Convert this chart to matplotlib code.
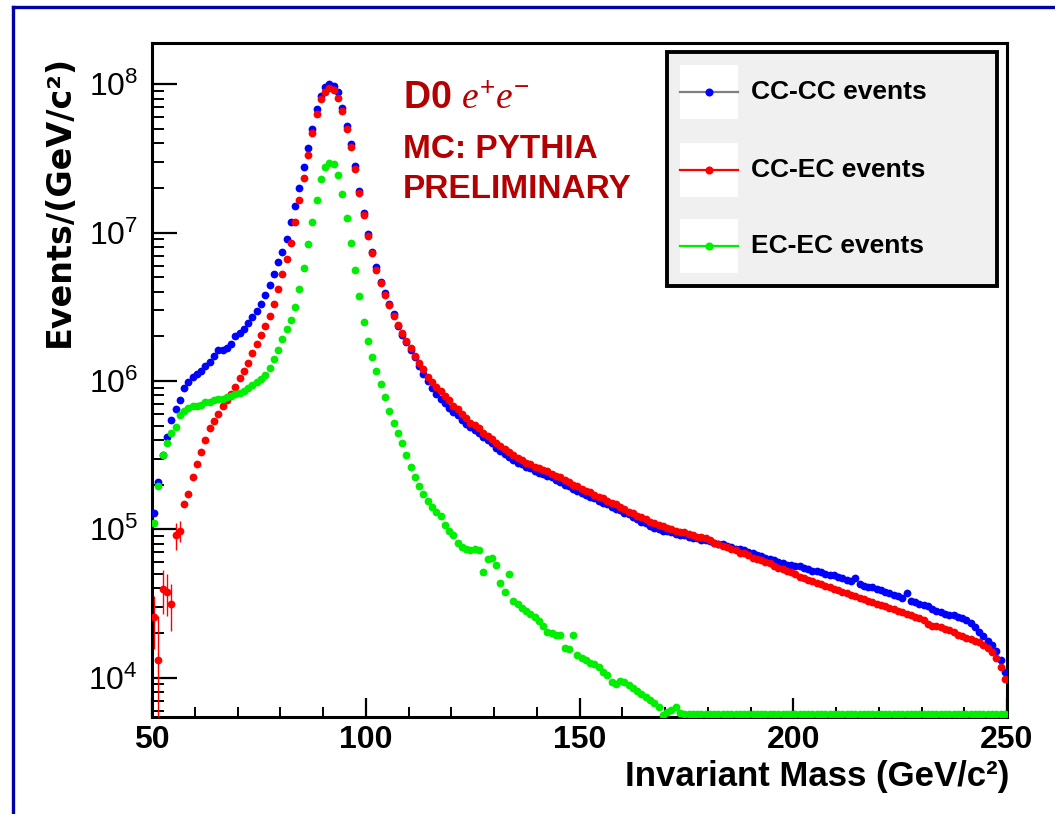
import numpy as np
import matplotlib
matplotlib.use('Agg')
import matplotlib.pyplot as plt
from matplotlib.patches import Rectangle
from matplotlib.lines import Line2D
from matplotlib.ticker import LogLocator, MultipleLocator, NullFormatter, LogFormatterSciNotation

plt.rcParams['font.family'] = ['Liberation Sans', 'DejaVu Sans']
plt.rcParams['mathtext.fontset'] = 'custom'
plt.rcParams['mathtext.rm'] = 'Liberation Sans'
plt.rcParams['mathtext.it'] = 'Liberation Serif:italic'
plt.rcParams['mathtext.bf'] = 'Liberation Sans:bold'

# ---------------- data (1 GeV bins, 50-250 GeV) ----------------
mass_bins = np.arange(50.5, 250.0, 1.0)

# log10(events per GeV/c^2)
cc_cc_log10 = [
    5.11, 5.32, 5.50, 5.62, 5.74, 5.81, 5.87, 5.95, 5.99, 6.03,
    6.05, 6.07, 6.10, 6.13, 6.17, 6.21, 6.21, 6.22, 6.25, 6.30,
    6.32, 6.35, 6.39, 6.43, 6.47, 6.52, 6.58, 6.65, 6.72, 6.80,
    6.87, 6.96, 7.07, 7.18, 7.30, 7.44, 7.57, 7.70, 7.83, 7.92,
    7.98, 8.00, 7.99, 7.95, 7.84, 7.72, 7.60, 7.45, 7.28, 7.13,
    6.99, 6.87, 6.77, 6.67, 6.59, 6.52, 6.45, 6.37, 6.31, 6.26,
    6.21, 6.16, 6.10, 6.05, 6.00, 5.95, 5.91, 5.88, 5.85, 5.82,
    5.79, 5.77, 5.74, 5.71, 5.69, 5.67, 5.65, 5.62, 5.60, 5.58,
    5.55, 5.53, 5.51, 5.49, 5.47, 5.45, 5.44, 5.42, 5.41, 5.39,
    5.38, 5.37, 5.36, 5.35, 5.33, 5.32, 5.30, 5.29, 5.27, 5.26,
    5.245, 5.23, 5.22, 5.21, 5.19, 5.18, 5.17, 5.15, 5.14, 5.13,
    5.11, 5.10, 5.08, 5.07, 5.05, 5.04, 5.02, 5.01, 5.00, 4.99,
    4.99, 4.98, 4.97, 4.96, 4.96, 4.95, 4.94, 4.94, 4.93, 4.93,
    4.92, 4.91, 4.90, 4.90, 4.89, 4.88, 4.87, 4.87, 4.86, 4.85,
    4.84, 4.83, 4.82, 4.81, 4.80, 4.79, 4.78, 4.77, 4.76, 4.76,
    4.75, 4.75, 4.74, 4.73, 4.72, 4.72, 4.71, 4.70, 4.69, 4.69,
    4.68, 4.67, 4.66, 4.65, 4.67, 4.63, 4.62, 4.61, 4.61, 4.60,
    4.59, 4.58, 4.57, 4.56, 4.55, 4.54, 4.57, 4.52, 4.51, 4.50,
    4.49, 4.48, 4.46, 4.45, 4.44, 4.43, 4.42, 4.42, 4.41, 4.40,
    4.39, 4.37, 4.34, 4.31, 4.28, 4.25, 4.22, 4.18, 4.12, 4.04,
]

cc_ec_log10 = [
    4.41, 4.12, 4.60, 4.58, 4.50, 4.96, 4.99, 5.17, 5.24, 5.35,
    5.44, 5.52, 5.60, 5.68, 5.73, 5.78, 5.83, 5.87, 5.91, 5.96,
    6.02, 6.07, 6.12, 6.19, 6.25, 6.31, 6.37, 6.44, 6.52, 6.62,
    6.72, 6.82, 6.93, 7.07, 7.22, 7.37, 7.52, 7.67, 7.80, 7.90,
    7.95, 7.975, 7.96, 7.91, 7.82, 7.70, 7.58, 7.43, 7.27, 7.12,
    6.98, 6.86, 6.75, 6.66, 6.58, 6.51, 6.44, 6.38, 6.32, 6.27,
    6.22, 6.17, 6.12, 6.08, 6.03, 5.99, 5.96, 5.93, 5.90, 5.87,
    5.83, 5.81, 5.78, 5.75, 5.72, 5.70, 5.68, 5.65, 5.63, 5.61,
    5.58, 5.56, 5.54, 5.52, 5.50, 5.48, 5.47, 5.45, 5.44, 5.42,
    5.41, 5.40, 5.39, 5.37, 5.36, 5.35, 5.33, 5.32, 5.30, 5.29,
    5.27, 5.26, 5.25, 5.23, 5.22, 5.21, 5.19, 5.18, 5.17, 5.15,
    5.14, 5.12, 5.11, 5.09, 5.08, 5.07, 5.05, 5.04, 5.03, 5.02,
    5.01, 5.00, 4.99, 4.98, 4.98, 4.97, 4.96, 4.95, 4.95, 4.94,
    4.93, 4.91, 4.90, 4.89, 4.88, 4.87, 4.86, 4.84, 4.84, 4.83,
    4.81, 4.80, 4.79, 4.78, 4.77, 4.75, 4.74, 4.73, 4.72, 4.71,
    4.70, 4.68, 4.67, 4.66, 4.65, 4.64, 4.63, 4.62, 4.61, 4.60,
    4.59, 4.58, 4.57, 4.56, 4.55, 4.54, 4.53, 4.52, 4.51, 4.50,
    4.49, 4.48, 4.47, 4.46, 4.45, 4.44, 4.43, 4.42, 4.41, 4.40,
    4.39, 4.36, 4.35, 4.35, 4.34, 4.33, 4.32, 4.31, 4.29, 4.28,
    4.27, 4.26, 4.25, 4.24, 4.22, 4.20, 4.17, 4.13, 4.07, 3.99,
]

# empty bins (from ~174 GeV on) are drawn on the bottom edge, at 3.755
ec_ec_log10 = [
    5.04, 5.29, 5.50, 5.58, 5.65, 5.69, 5.77, 5.80, 5.82, 5.83,
    5.83, 5.84, 5.86, 5.86, 5.87, 5.88, 5.88, 5.89, 5.90, 5.91,
    5.92, 5.93, 5.95, 5.97, 5.99, 6.01, 6.04, 6.09, 6.15, 6.21,
    6.28, 6.35, 6.41, 6.50, 6.62, 6.76, 6.92, 7.07, 7.22, 7.36,
    7.44, 7.47, 7.46, 7.39, 7.26, 7.10, 6.93, 6.75, 6.57, 6.40,
    6.27, 6.16, 6.07, 5.98, 5.89, 5.80, 5.72, 5.65, 5.58, 5.50,
    5.42, 5.35, 5.29, 5.24, 5.19, 5.15, 5.12, 5.09, 5.03, 4.99,
    4.96, 4.91, 4.88, 4.87, 4.86, 4.87, 4.86, 4.71, 4.80, 4.81,
    4.76, 4.64, 4.58, 4.70, 4.52, 4.50, 4.47, 4.45, 4.43, 4.41,
    4.38, 4.35, 4.31, 4.30, 4.29, 4.29, 4.20, 4.19, 4.29, 4.15,
    4.13, 4.12, 4.10, 4.09, 4.07, 4.04, 4.02, 3.97, 3.96, 3.98,
    3.97, 3.95, 3.93, 3.91, 3.89, 3.87, 3.85, 3.83, 3.80, 3.75,
    3.77, 3.78, 3.80, 3.76, 3.755, 3.755, 3.755, 3.755, 3.755, 3.755,
    3.755, 3.755, 3.755, 3.755, 3.755, 3.755, 3.755, 3.755, 3.755, 3.755,
    3.755, 3.755, 3.755, 3.755, 3.755, 3.755, 3.755, 3.755, 3.755, 3.755,
    3.755, 3.755, 3.755, 3.755, 3.755, 3.755, 3.755, 3.755, 3.755, 3.755,
    3.755, 3.755, 3.755, 3.755, 3.755, 3.755, 3.755, 3.755, 3.755, 3.755,
    3.755, 3.755, 3.755, 3.755, 3.755, 3.755, 3.755, 3.755, 3.755, 3.755,
    3.755, 3.755, 3.755, 3.755, 3.755, 3.755, 3.755, 3.755, 3.755, 3.755,
    3.755, 3.755, 3.755, 3.755, 3.755, 3.755, 3.755, 3.755, 3.755, 3.755,
]

# statistical errors visible on the first CC-EC bins
cc_ec_err_first = [1.0e4, 1.3e4, 1.3e4, 1.2e4, 1.1e4, 1.9e4, 1.6e4]

series_labels = ['CC-CC events', 'CC-EC events', 'EC-EC events']
series_colors = ['#0000ff', '#ff0000', '#00ee00']
legend_line_colors = ['#808080', '#ff0000', '#00ee00']

x_ticks = [50, 100, 150, 200, 250]

# ---------------- figure ----------------
W, H = 1055, 814
fig = plt.figure(figsize=(W / 100, H / 100), dpi=100)
fig.patch.set_facecolor('white')


def fx(px):
    return px / W


def fy(py):
    return 1 - py / H


ax = fig.add_axes([fx(152), fy(717), fx(1007) - fx(152), fy(43) - fy(717)])

values = [10 ** np.array(v) for v in (cc_cc_log10, cc_ec_log10, ec_ec_log10)]
for i, (vals, col) in enumerate(zip(values, series_colors)):
    ax.plot(mass_bins, vals, 'o', color=col, ms=5.6, mew=0, zorder=3 + i)

n_err = len(cc_ec_err_first)
ax.errorbar(mass_bins[:n_err], values[1][:n_err], yerr=cc_ec_err_first,
            fmt='none', ecolor='#ff0000', elinewidth=1.0, capsize=0, zorder=4)

ax.set_yscale('log')
ax.set_xlim(50, 250)
ax.set_ylim(10 ** 3.735, 10 ** 8.278)

ax.xaxis.set_major_locator(MultipleLocator(50))
ax.xaxis.set_minor_locator(MultipleLocator(10))
ax.set_xticks(x_ticks)
ax.yaxis.set_major_locator(LogLocator(base=10, numticks=20))
ax.yaxis.set_minor_locator(LogLocator(base=10, subs=np.arange(2, 10), numticks=50))
ax.yaxis.set_minor_formatter(NullFormatter())
ax.yaxis.set_major_formatter(LogFormatterSciNotation())

ax.tick_params(which='both', direction='in', top=False, right=False, color='black')
ax.xaxis.set_tick_params(which='major', length=14, width=1.6, labelsize=23, pad=6)
ax.xaxis.set_tick_params(which='minor', length=7, width=1.4)
ax.yaxis.set_tick_params(which='major', length=18, width=1.6, labelsize=23, pad=10)
ax.yaxis.set_tick_params(which='minor', length=8.5, width=1.4)
for lab in ax.get_xticklabels():
    lab.set_fontweight('bold')

for sp in ax.spines.values():
    sp.set_linewidth(2.2)

ax.set_xlabel('Invariant Mass (GeV/c²)', fontsize=25, fontweight='bold',
              ha='right', va='baseline')
ax.xaxis.set_label_coords((1009 - 152) / 855, -(786 - 717) / 674)
ax.set_ylabel('Events/(GeV/c²)', fontsize=24, fontweight='bold',
              family='DejaVu Sans', ha='center', va='center')
ax.yaxis.set_label_coords((59 - 152) / 855, (717 - 201) / 674)

# ---------------- annotation text ----------------
title_color = '#b40000'
fig.text(fx(403), fy(108), 'D0 $e^{+}e^{-}$', color=title_color, fontsize=27,
         fontweight='bold', va='baseline', ha='left')
fig.text(fx(403), fy(158), 'MC: PYTHIA', color=title_color, fontsize=24,
         fontweight='bold', va='baseline', ha='left')
fig.text(fx(403), fy(198), 'PRELIMINARY', color=title_color, fontsize=24,
         fontweight='bold', va='baseline', ha='left')

# ---------------- legend (ROOT style box) ----------------
fig.add_artist(Rectangle((fx(667), fy(286)), fx(997) - fx(667), fy(52) - fy(286),
                         transform=fig.transFigure, facecolor='#f0f0f0',
                         edgecolor='black', lw=2.8, zorder=6))
entry_y = [92, 170, 246]
for yy, lab, mcol, lcol in zip(entry_y, series_labels, series_colors, legend_line_colors):
    fig.add_artist(Rectangle((fx(680), fy(yy + 27)), fx(738) - fx(680), fy(yy - 27) - fy(yy + 27),
                             transform=fig.transFigure, facecolor='white',
                             edgecolor='none', zorder=7))
    fig.add_artist(Line2D([fx(680), fx(738)], [fy(yy), fy(yy)], transform=fig.transFigure,
                          color=lcol, lw=1.6, zorder=8))
    fig.add_artist(Line2D([fx(709)], [fy(yy)], transform=fig.transFigure, marker='o',
                          ms=5.8, mew=0, color=mcol, linestyle='none', zorder=9))
    fig.text(fx(751), fy(yy), lab, fontsize=19, fontweight='bold', color='black',
             va='center', ha='left', zorder=9)

# ---------------- blue canvas frame (top and left edges) ----------------
frame_col = '#0000a8'
fig.add_artist(Line2D([fx(13), 1.0], [fy(7), fy(7)], transform=fig.transFigure,
                      color=frame_col, lw=2.4, zorder=10))
fig.add_artist(Line2D([fx(13), fx(13)], [0.0, fy(7)], transform=fig.transFigure,
                      color=frame_col, lw=2.4, zorder=10))

fig.savefig('out.png', dpi=100)
